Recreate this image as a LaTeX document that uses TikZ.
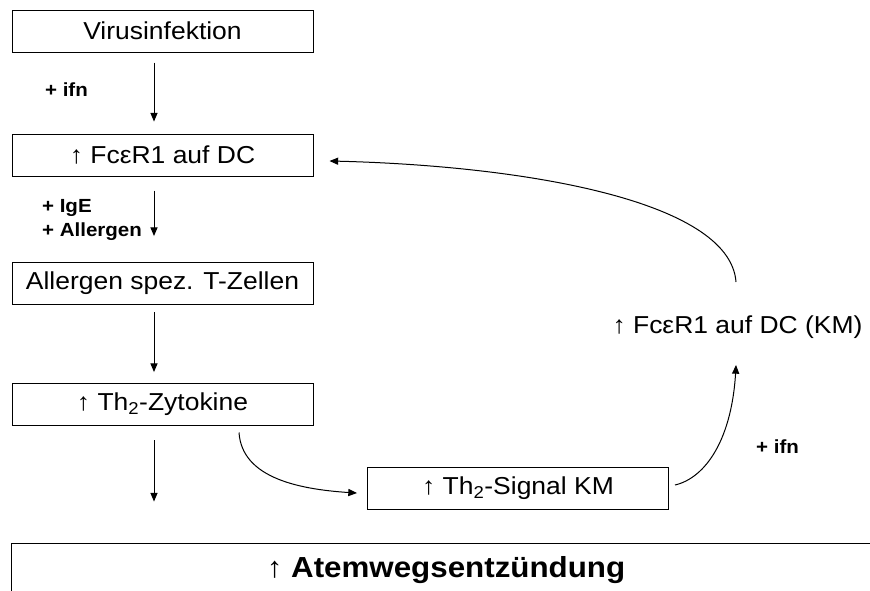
\documentclass[tikz,border=0pt]{standalone}
\usepackage{fontspec}
\setmainfont{Liberation Sans}[FakeStretch=1.08]
\usetikzlibrary{arrows}

\begin{document}
\begin{tikzpicture}[x=1pt,y=-1pt,>=triangle 45,
  box/.style={draw,line width=1pt,minimum width=301pt,minimum height=42pt,inner sep=0pt,font=\fontsize{24.5}{29}\selectfont},
  lab/.style={font=\fontsize{19}{24}\selectfont\bfseries,align=left,inner sep=0pt}]
\useasboundingbox (0,0) rectangle (870,590);
% left column
\node[box] (virus) at (162.5,31) {Virusinfektion};
\node[box] (fcer) at (162.5,155) {↑ FcεR1 auf DC};
\node[box] (tzell) at (162.5,283.5) {Allergen spez. T-Zellen};
\node[box] (zyto) at (162.5,404.5) {↑ Th\textsubscript{2}-Zytokine};
\node[box] (signal) at (518,488) {↑ Th\textsubscript{2}-Signal KM};
\node[font=\fontsize{24.5}{29}\selectfont,inner sep=0pt] (km) at (737.5,327) {↑ FcεR1 auf DC (KM)};
\node[draw,line width=1pt,minimum width=870pt,minimum height=54pt,font=\fontsize{29}{34}\selectfont] (atem) at (446,570) {↑ \textbf{Atemwegsentzündung}};
% labels
\node[lab] (ifnA) at (66.5,90) {+ ifn};
\node[lab] (ige) at (92,220) {+ IgE\\+ Allergen};
\node[lab] (ifnB) at (777.5,447) {+ ifn};
% arrows
\foreach \a/\b/\s/\e in {virus/fcer/10/12,fcer/tzell/14/26,tzell/zyto/7/11,zyto/atem/14/41}
  \draw[->,line width=1pt] ([shift={(-8.5,\s)}]\a.south) -- ([shift={(-8.5,-\e)}]\a.south |- \b.north);
\draw[->,line width=1pt] ([shift={(76.5,6.5)}]zyto.south) .. controls +(3,46) and +(-57,-3) .. ([shift={(-10,5)}]signal.west);
\draw[->,line width=1pt] ([shift={(6,-3)}]signal.east) .. controls +(30,-7) and +(-3,75) .. ([shift={(-1.5,38)}]km.center);
\draw[->,line width=1pt] ([shift={(-1.5,-45)}]km.center) .. controls +(-6,-82) and +(191,4) .. ([shift={(16,6)}]fcer.east);
\end{tikzpicture}
\end{document}
